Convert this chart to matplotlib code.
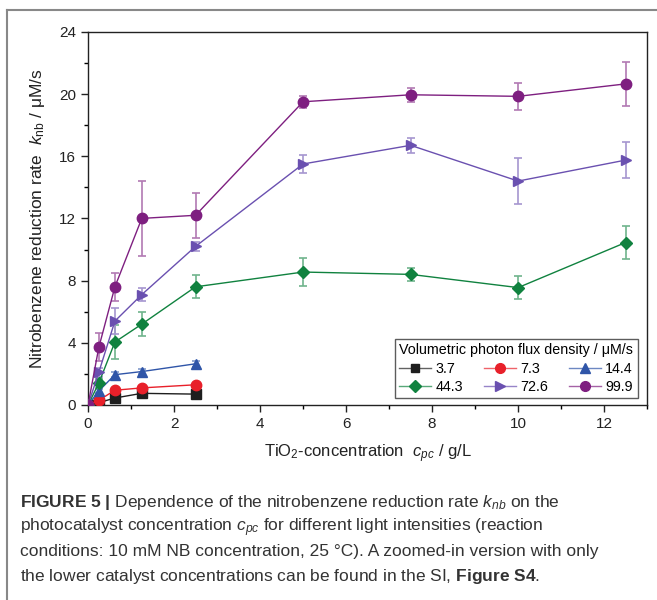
import numpy as np
import matplotlib
matplotlib.use("Agg")
import matplotlib.pyplot as plt
from matplotlib.lines import Line2D
from matplotlib.ticker import MultipleLocator
import matplotlib.colors as mcolors

plt.rcParams['font.family'] = ['Liberation Sans', 'DejaVu Sans']
plt.rcParams['mathtext.fontset'] = 'custom'
plt.rcParams['mathtext.rm'] = 'Liberation Sans'
plt.rcParams['mathtext.it'] = 'Liberation Sans:italic'
plt.rcParams['mathtext.bf'] = 'Liberation Sans:bold'

# TiO2 concentration (g/L)
conc_all = [0, 0.25, 0.625, 1.25, 2.5, 5, 7.5, 10, 12.5]
conc_low = [0, 0.25, 0.625, 1.25, 2.5]

flux_labels = ["3.7", "7.3", "14.4", "44.3", "72.6", "99.9"]

k_37 = [0, 0.15, 0.45, 0.75, 0.7]
e_37 = [0, 0.05, 0.1, 0.1, 0.1]
k_73 = [0, 0.3, 0.95, 1.1, 1.3]
e_73 = [0, 0.1, 0.1, 0.1, 0.1]
k_144 = [0, 0.9, 1.95, 2.15, 2.65]
e_144 = [0, 0.15, 0.15, 0.15, 0.2]
k_443 = [0, 1.4, 4.05, 5.2, 7.6, 8.55, 8.4, 7.55, 10.45]
e_443 = [0, 0.3, 1.1, 0.75, 0.75, 0.9, 0.4, 0.75, 1.05]
k_726 = [0, 2.1, 5.4, 7.1, 10.2, 15.5, 16.7, 14.4, 15.75]
e_726 = [0, 0.3, 0.85, 0.4, 0.3, 0.6, 0.5, 1.5, 1.15]
k_999 = [0, 3.7, 7.6, 12.0, 12.2, 19.5, 19.95, 19.85, 20.65]
e_999 = [0, 0.9, 0.9, 2.4, 1.45, 0.4, 0.45, 0.85, 1.4]

series = [
    (conc_low, k_37, e_37, '#1e1e1e', 's', 6.5),
    (conc_low, k_73, e_73, '#e8202a', 'o', 7.5),
    (conc_low, k_144, e_144, '#2f55a8', '^', 7.5),
    (conc_all, k_443, e_443, '#10823f', 'D', 6.5),
    (conc_all, k_726, e_726, '#6a50b0', '>', 7.5),
    (conc_all, k_999, e_999, '#7e1f80', 'o', 7.5),
]


def lighten(c, f=0.4):
    r, g, b = mcolors.to_rgb(c)
    return (r + (1 - r) * f, g + (1 - g) * f, b + (1 - b) * f)


fig = plt.figure(figsize=[6.57, 6.0], dpi=100)
ax = fig.add_axes([0.134, 0.325, 0.851, 0.622])

handles = []
for (x, y, e, col, mk, ms), lab in zip(series, flux_labels):
    ax.errorbar(x, y, yerr=e, fmt='none', ecolor=lighten(col), elinewidth=1.2,
                capsize=3, capthick=1.2, zorder=2)
    ax.plot(x, y, color=col, lw=1.0, marker=mk, ms=ms, mec=col, mfc=col, zorder=3)
    handles.append(Line2D([], [], color=lighten(col, 0.3), lw=1.0, marker=mk, ms=ms - 0.5,
                          mec=col, mfc=col))

ax.set_xlim(0, 13)
ax.set_ylim(0, 24)
ax.xaxis.set_major_locator(MultipleLocator(2))
ax.xaxis.set_minor_locator(MultipleLocator(1))
ax.yaxis.set_major_locator(MultipleLocator(4))
ax.yaxis.set_minor_locator(MultipleLocator(2))
ax.tick_params(which='major', direction='out', length=5, width=1, labelsize=11, colors='#222222')
ax.tick_params(which='minor', direction='out', length=3, width=1)
for s in ax.spines.values():
    s.set_linewidth(1.0)
    s.set_color('#222222')

ax.set_xlabel(r"TiO$_2$-concentration  $c_{pc}$ / g/L", fontsize=12, color='#222222', labelpad=8)
ax.set_ylabel(r"Nitrobenzene reduction rate  $k_{\rm nb}$ / μM/s", fontsize=12.5, color='#222222',
              labelpad=9)

# legend filled row by row like the original
order = [0, 3, 1, 4, 2, 5]
leg = ax.legend([handles[i] for i in order], [flux_labels[i] for i in order], ncol=3,
                loc='lower right', bbox_to_anchor=(0.983, 0.018),
                title="Volumetric photon flux density / μM/s", fontsize=10.3, title_fontsize=10.3,
                frameon=True, fancybox=False, edgecolor='#333333', borderpad=0.3,
                handlelength=2.2, handletextpad=0.3, columnspacing=1.5, labelspacing=0.3,
                borderaxespad=0)
leg._legend_box.align = "left"
leg.get_frame().set_linewidth(1.0)

# outer frame of the figure panel
fig.add_artist(Line2D([7 / 657, 1.0], [1 - 10 / 600, 1 - 10 / 600], color='#888888', lw=1.5))
fig.add_artist(Line2D([7 / 657, 7 / 657], [0, 1 - 10 / 600], color='#888888', lw=1.5))

caption = [
    r"$\mathbf{FIGURE\ 5\ |}$ Dependence of the nitrobenzene reduction rate $k_{nb}$ on the",
    r"photocatalyst concentration $c_{pc}$ for different light intensities (reaction",
    r"conditions: 10 mM NB concentration, 25 °C). A zoomed-in version with only",
    r"the lower catalyst concentrations can be found in the SI, $\mathbf{Figure\ S4}$.",
]
for i, line in enumerate(caption):
    fig.text(20 / 657, 1 - (507 + i * 24.7) / 600, line, fontsize=12.5, color='#333333',
             va='baseline', ha='left')

fig.savefig("out.png", dpi=100)
